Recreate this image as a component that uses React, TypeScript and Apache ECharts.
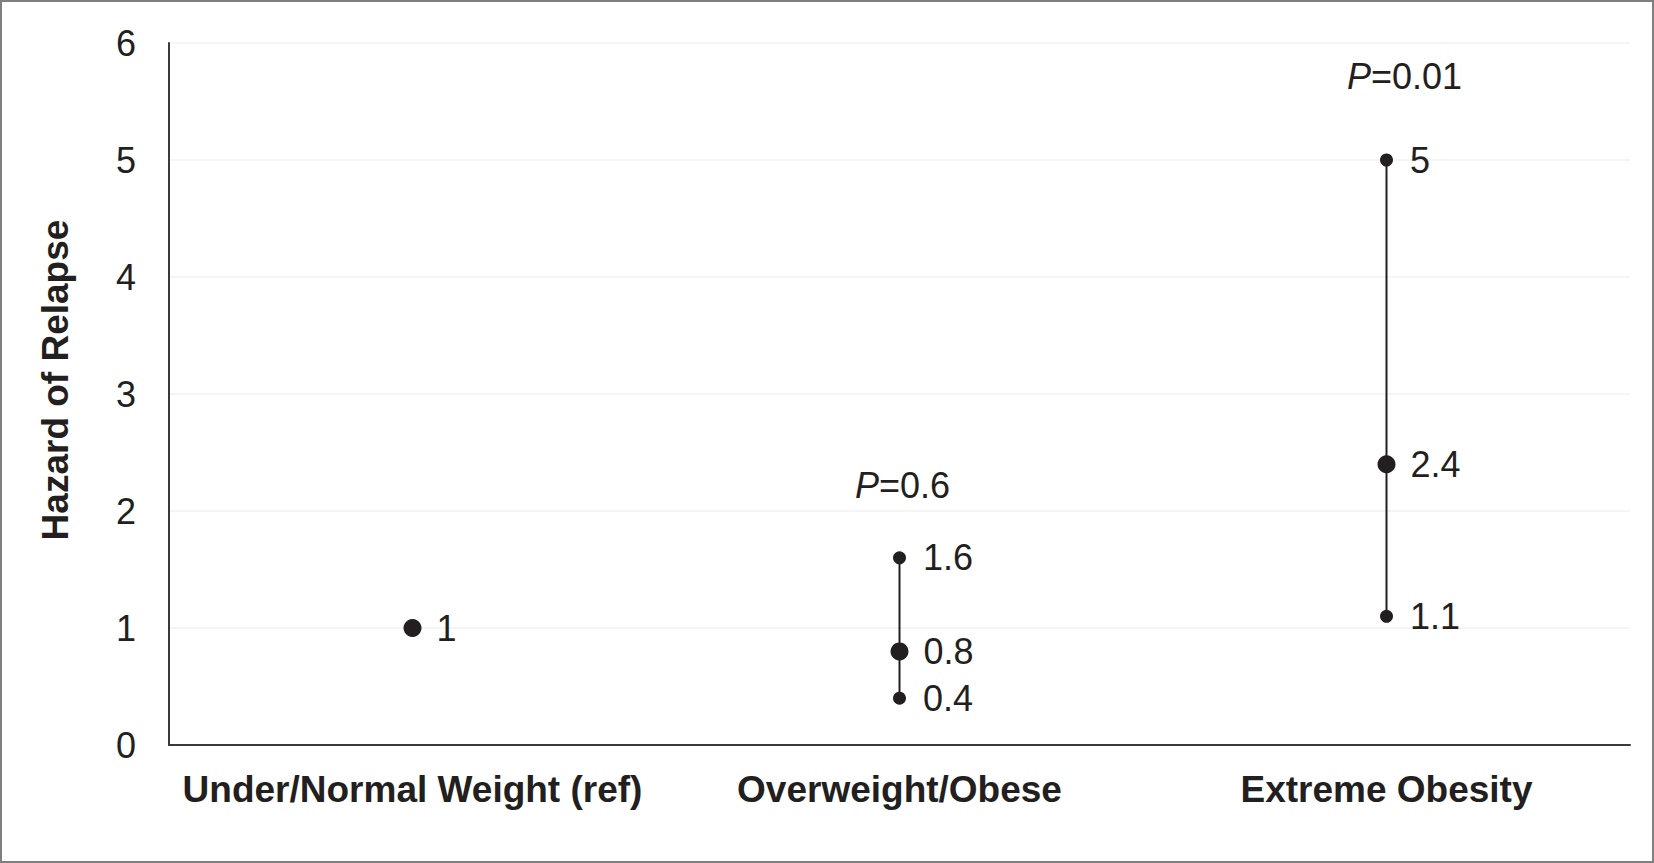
import React, { useEffect, useRef } from "react";
import * as echarts from "echarts";

const categories = ["Under/Normal Weight (ref)", "Overweight/Obese", "Extreme Obesity"];
const hazardRatios = [1, 0.8, 2.4];
const ciLower: (number | null)[] = [null, 0.4, 1.1];
const ciUpper: (number | null)[] = [null, 1.6, 5];
const pValues: (string | null)[] = [null, "0.6", "0.01"];
const pLabelLevels: (number | null)[] = [null, 2.22, 5.71];
const yTicks = [0, 1, 2, 3, 4, 5, 6];

const FONT = "'Liberation Sans', Arial, Helvetica, sans-serif";
const INK = "#231f20";

export default function App() {
  const ref = useRef<HTMLDivElement>(null);
  useEffect(() => {
    if (!ref.current) return;
    const chart = echarts.init(ref.current, undefined, { renderer: "svg" });

    const ciData = categories
      .map((c, i) => (ciLower[i] != null && ciUpper[i] != null ? [i, ciLower[i], ciUpper[i]] : null))
      .filter((d) => d) as number[][];
    const boundData: any[] = [];
    categories.forEach((c, i) => {
      if (ciLower[i] != null) boundData.push([c, ciLower[i]]);
      if (ciUpper[i] != null) boundData.push([c, ciUpper[i]]);
    });
    const pointData = categories.map((c, i) => [c, hazardRatios[i]]);
    const pData: any[] = [];
    categories.forEach((c, i) => {
      if (pValues[i] != null && pLabelLevels[i] != null)
        pData.push({
          value: [c, pLabelLevels[i]],
          pText: pValues[i],
          label: { offset: [i === 2 ? 18 : 3, 0] },
        });
    });

    const valueLabel = {
      show: true,
      position: "right" as const,
      distance: 15,
      fontSize: 36,
      fontFamily: FONT,
      color: INK,
      opacity: 1,
      formatter: (p: any) => String(p.value[1]),
    };

    chart.setOption({
      animation: false,
      backgroundColor: "#ffffff",
      grid: { left: 169, top: 43, right: 24, bottom: 118, containLabel: false },
      xAxis: {
        type: "category",
        data: categories,
        boundaryGap: true,
        axisTick: { show: false },
        axisLine: { lineStyle: { color: "#3a3a3a", width: 2 } },
        axisLabel: {
          fontSize: 37,
          fontWeight: "bold",
          fontFamily: FONT,
          color: INK,
          margin: 26,
          interval: 0,
        },
        splitLine: { show: false },
      },
      yAxis: {
        type: "value",
        min: yTicks[0],
        max: yTicks[yTicks.length - 1],
        interval: 1,
        axisLine: { show: true, lineStyle: { color: "#3a3a3a", width: 2 } },
        axisTick: { show: false },
        axisLabel: { fontSize: 36, fontFamily: FONT, color: INK, margin: 33 },
        splitLine: { lineStyle: { color: "#f2f2f2", width: 1.5 } },
      },
      series: [
        {
          type: "custom",
          data: ciData,
          z: 1,
          renderItem: (params: any, api: any) => {
            const lo = api.coord([api.value(0), api.value(1)]);
            const hi = api.coord([api.value(0), api.value(2)]);
            return {
              type: "line",
              shape: { x1: lo[0], y1: lo[1], x2: hi[0], y2: hi[1] },
              style: { stroke: INK, lineWidth: 2 },
            };
          },
        },
        {
          type: "scatter",
          data: boundData,
          symbol: "circle",
          symbolSize: 13,
          itemStyle: { color: INK, opacity: 1 },
          label: { ...valueLabel, distance: 17 },
          z: 3,
        },
        {
          type: "scatter",
          data: pointData,
          symbol: "circle",
          symbolSize: 18,
          itemStyle: { color: INK, opacity: 1 },
          label: valueLabel,
          z: 3,
        },
        {
          type: "scatter",
          data: pData,
          symbolSize: 0,
          itemStyle: { color: "transparent", opacity: 1 },
          label: {
            show: true,
            position: "inside",
            fontSize: 36,
            fontFamily: FONT,
            color: INK,
            opacity: 1,
            formatter: (p: any) => "{i|P}{n|=" + p.data.pText + "}",
            rich: {
              i: { fontStyle: "italic", fontSize: 36, fontFamily: FONT, color: INK },
              n: { fontSize: 36, fontFamily: FONT, color: INK },
            },
          },
          z: 4,
        },
      ],
      graphic: [
        {
          type: "rect",
          shape: { x: 1, y: 1, width: 1652, height: 861 },
          style: { fill: "none", stroke: "#7f7f7f", lineWidth: 2 },
          silent: true,
        },
        {
          type: "text",
          x: 55,
          y: 380,
          rotation: Math.PI / 2,
          style: {
            text: "Hazard of Relapse",
            fontSize: 37,
            fontWeight: "bold",
            fontFamily: FONT,
            fill: INK,
            textAlign: "center",
            textVerticalAlign: "middle",
          },
        },
      ],
    });
    return () => chart.dispose();
  }, []);
  return (
    <div
      ref={ref}
      style={{ position: "absolute", left: 0, top: 0, width: 1654, height: 863 }}
    />
  );
}
